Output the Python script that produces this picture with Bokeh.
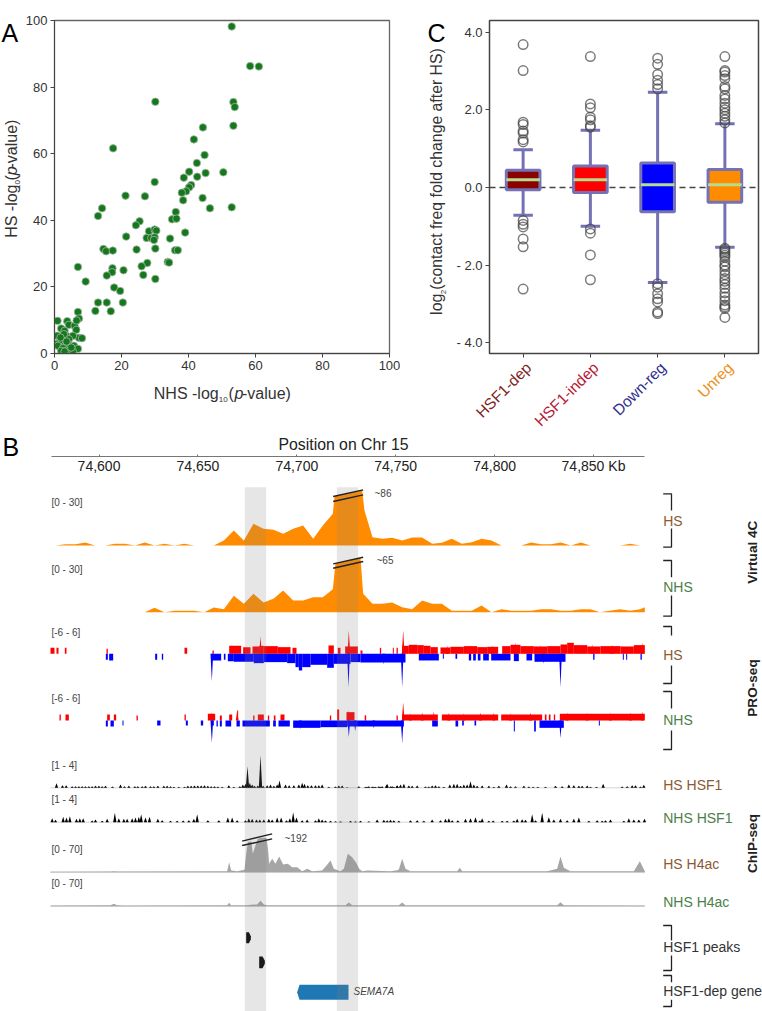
from bokeh.plotting import figure
from bokeh.layouts import column, row
from bokeh.models import Label, Range1d, FixedTicker
from bokeh.embed import file_html
from bokeh.resources import INLINE
import numpy as np

FONT = "Liberation Sans"

# ---------- Panel A ----------
nhs_p = [52.9,58.4,61,30.1,53.4,53.8,53.4,44.3,41.6,17.5,44.8,42.5,40.2,50.4,45.1,42.6,38.6,29.9,40.8,40.2,39.3,38,21.2,27,44.2,38.4,52.9,14.2,46.4,36.2,13,35.1,36.4,25.4,24.3,28.2,29.9,30.4,39,21.4,27.5,28.9,29.9,29.7,34.5,14.6,15.4,17.4,24.5,30.1,36,36.8,33.8,34.2,27.7,26,7,17.3,17.2,20.6,15.6,26.5,30.1,9.3,17.8,19.6,13,15.6,20.4,12.2,16.8,7,7.3,0.9,3.8,4.3,6,2,3,6.5,7.3,8.2,5.5,0.8,3.5,3,1.6,4.3,0.3,1,3,4,2.5,5.8,7,5.5,3.6,2,3,5,3.6,2.8,1.8,6.6]
hs_p = [98.2,86.3,86.2,75.6,75.5,74,68.4,67.9,64.3,61.6,59.6,57.2,54.6,54.4,54.2,53.1,52.8,51.5,50.6,49.9,48.7,48.3,47.4,47.2,46.7,46,43.9,43.6,43.6,42.5,41.3,40.3,40.5,39.7,38.5,36.7,37.2,36.9,36.3,35.1,34.7,34.7,34.9,34.1,34.5,31.4,30.7,30.9,31.2,31.5,31,31,27.5,27.3,27.2,26.2,26,25.6,24.4,25,23.4,23.6,22.4,21.6,19.8,18.8,15.3,15.3,15.3,12.8,12.7,12.5,10.5,9.8,9.7,8.6,8.3,7.5,6.8,7.1,4.7,4.6,5.3,5.3,5.3,4.2,3.8,4.3,2.8,2.3,2.3,2.8,1.6,2.3,1.4,0.6,0.8,0.8,0.6,1.8,3.6,5.8,4.8,9.9]
a_ticks = [0,20,40,60,80,100]

# ---------- Panel C ----------
box_names = ["HSF1-dep","HSF1-indep","Down-reg","Unreg"]
box_fill = ["#8b0000","#ff0000","#0000ff","#ff8c00"]
box_text = ["#7d1f24","#b51a35","#2f2f8c","#e8921e"]
q1 = [-0.06,-0.13,-0.63,-0.38]
q3 = [0.44,0.55,0.63,0.46]
med = [0.2,0.2,0.07,0.07]
wlo = [-0.72,-1.0,-2.45,-1.54]
whi = [0.97,1.47,2.45,1.64]
fliers = [
 [3.68,3.01,1.68,1.62,1.45,1.4,1.23,1.17,-0.85,-0.95,-1.02,-1.33,-1.53,-2.62],
 [3.37,2.15,2.05,1.81,1.74,1.59,1.55,-1.07,-1.18,-1.74,-2.38],
 [3.33,3.17,2.91,2.76,2.65,2.54,-2.48,-2.57,-2.74,-2.87,-2.95,-3.21,-3.25],
 [3.37,3.01,2.97,2.88,2.8,2.6,2.54,2.37,2.28,2.17,2.07,2.0,1.91,1.83,1.74,1.66,-1.57,-1.6,-1.65,-1.7,-1.75,-1.8,-1.9,-2.0,-2.05,-2.15,-2.25,-2.35,-2.42,-2.5,-2.6,-2.72,-2.82,-2.92,-3.03,-3.08,-3.12,-3.35],
]
c_ticks = [-4,-2,0,2,4]
c_tick_text = {-4:"- 4.0",-2:"- 2.0",0:"0.0",2:"2.0",4:"4.0"}

# ---------- Panel B: all genome positions are in bins of BIN_KB from BIN0 ----------
BIN0 = 74550.2
BIN_KB = 0.16852
PX_PER_KB = 1.978
kb_ticks = [74600,74650,74700,74750,74800,74850]
kb_labels = {74600:"74,600",74650:"74,650",74700:"74,700",74750:"74,750",74800:"74,800",74850:"74,850 Kb"}

hs_4c_bin = [150,165,195,225,254,284,314,343,373,403,433,462,492,522,551,581,611,640,670,700,730,759,789,819,848,878,908,938,967,997,1002,1085,1092,1116,1146,1175,1205,1235,1265,1295,1324,1354,1384,1414,1443,1473,1503,1562,1592,1622,1651,1681,1711,1741,1770,1859,1889,1919,1933]
hs_4c_val = [0,0,0.8,0.8,1.8,0,0,1,1,0,1.8,0,1,0,1,0,0,0,3,9,3,13,10,9.4,7,10,12,4,12,19,86,86,21,5,4,4.6,3,4.8,4.8,1,1.6,4,1,2,4,3,0,0,1.8,0.8,0.8,1.8,0,1.8,0,0,1,0,0]
nhs_4c_bin = [150,433,462,492,522,551,581,611,640,670,700,730,759,789,819,848,878,908,938,967,997,1005,1080,1088,1116,1146,1175,1205,1235,1265,1295,1324,1354,1384,1414,1443,1473,1503,1533,1562,1592,1622,1651,1681,1711,1741,1770,1798,1859,1889,1919,1933]
nhs_4c_val = [0,0,2.6,0,0.8,0.8,0.8,0,2.8,1.8,9.8,5,11,5.8,8,13,7,7,9,9,13.8,65,65,11,5,5,5.8,3,1.8,7,5,5,0.8,0.8,0.8,4,0,1.8,0.8,0.8,0.8,1.8,1.8,0.8,0.8,1.8,1.8,0,1.8,0.8,1.8,3]

# PRO-seq blocks: start bin, end bin, height (in 1/16.5 of a unit)
hs_red_a = [150,168,193,318,552,636,686,728,756,776,790,832,876,984,1012,1034,1080,1138,1177,1188,1205,1225,1250,1270,1290,1320,1350,1390,1430,1460,1505,1530,1560,1600,1640,1680,1700,1720,1760,1800,1860,1900]
hs_red_b = [162,174,198,322,560,640,722,750,776,790,832,870,888,1000,1020,1072,1086,1142,1180,1192,1225,1250,1270,1290,1312,1350,1390,1430,1460,1493,1530,1560,1600,1640,1680,1700,1720,1760,1800,1860,1900,1933]
hs_red_h = [18,18,18,15,18,10,24,20,22,24,23,20,18,25,18,22,10,18,18,18,24,27,26,24,20,19,21,23,20,21,23,27,23,22,23,28,33,26,22,23,22,26]
hs_blue_a = [316,326,464,484,634,670,682,700,760,790,860,885,895,905,930,980,1000,1050,1080,1255,1295,1327,1365,1405,1418,1432,1448,1472,1540,1578,1602,1778,1867,1877,1920]
hs_blue_b = [322,338,470,488,662,675,700,760,790,860,885,895,905,930,980,1000,1050,1080,1215,1315,1298,1330,1370,1412,1426,1440,1465,1530,1555,1595,1695,1782,1870,1880,1924]
hs_blue_h = [18,20,18,18,20,18,22,24,28,25,28,40,50,40,33,42,30,25,26,20,15,15,15,20,20,20,20,20,22,20,24,18,18,18,18]
nhs_red_a = [177,195,320,340,408,552,622,658,686,710,758,772,802,820,840,988,1010,1038,1093,1188,1093,1205,1324,1502,1633,1645,1660,1678]
nhs_red_b = [181,205,328,347,412,556,644,664,695,713,762,790,806,825,852,992,1016,1062,1097,1192,1096,1312,1493,1625,1638,1650,1664,1933]
nhs_red_h = [18,18,18,18,15,18,20,15,18,30,15,18,15,15,18,15,33,25,15,15,15,18,18,18,18,18,18,20]
nhs_blue_a = [316,330,366,470,556,601,633,648,658,675,708,726,818,834,878,960,1040,1295,1365,1385,1422,1540,1601,1617,1795]
nhs_blue_b = [322,340,369,480,562,608,640,652,664,692,718,808,826,868,960,1040,1210,1312,1373,1390,1427,1543,1606,1690,1798]
nhs_blue_h = [18,18,15,15,15,15,15,18,18,18,18,18,18,18,22,20,18,18,18,15,15,33,33,22,15]
hs_red_sp_b = [780,1045,1208,1340,1410,1475,1545,1620,1775,1835,1925]; hs_red_sp_h = [52,70,70,24,26,25,33,26,28,27,33]
hs_blue_sp_b = [634,1044,1205,1680,1630,1150]; hs_blue_sp_h = [82,100,100,100,30,32]
nhs_red_sp_b = [634,710,1043,1208,1230,1265,1300,1345,1390,1440,1480,1530,1590,1700,1760,1830,1890,1925]
nhs_red_sp_h = [25,30,30,55,22,24,26,23,22,24,23,22,24,24,23,24,24,26]
nhs_blue_sp_b = [634,1045,1064,1205,1680,900,1120]; nhs_blue_sp_h = [67,50,33,68,53,26,24]

# HSF1 ChIP spikes: bin, height (98 = 3 units)
hs_hsf1_b = [168,186,197,215,225,235,245,255,265,275,285,295,305,315,336,360,372,385,403,412,425,435,450,460,472,490,500,510,520,535,552,562,572,582,592,602,612,622,632,642,652,665,685,700,718,727,735,741,748,755,762,772,780,788,800,810,820,830,837,855,866,880,895,905,912,922,933,945,955,965,985,1005,1015,1025,1040,1075,1095,1105,1115,1125,1135,1145,1160,1170,1180,1190,1100,1120,1140,1158,1175,1190,1200,1210,1225,1235,1250,1275,1285,1295,1305,1315,1330,1348,1360,1370,1380,1390,1400,1410,1420,1430,1445,1465,1480,1495,1518,1530,1545,1570,1585,1598,1612,1635,1665,1685,1705,1720,1735,1745,1760,1770,1788,1808,1865,1880,1895,1905,1920,1930]
hs_hsf1_h = [14,8,8,5,5,5,5,5,5,5,6,6,5,6,4,10,5,6,5,5,5,6,5,5,6,6,6,5,3,3,3,6,6,7,7,7,8,6,5,5,4,3,8,3,5,10,12,65,15,10,6,7,98,6,8,10,6,10,22,10,8,8,10,15,12,8,8,8,8,10,3,4,7,7,2,5,3,5,4,3,5,5,12,5,3,7,3,3,3,9,5,7,10,12,7,6,7,4,4,7,8,5,3,10,12,12,6,10,10,20,10,6,7,6,3,6,10,5,5,6,4,3,3,3,6,5,10,8,6,6,7,3,3,12,4,5,8,8,4,9,8,4]
nhs_hsf1_b = [155,165,188,198,208,228,238,248,275,285,305,320,343,355,370,380,395,405,415,422,435,447,472,485,510,530,548,565,580,590,622,655,682,695,710,735,745,755,768,778,790,805,815,830,842,858,868,878,888,905,920,945,955,965,975,990,1005,1020,1050,1065,1080,1105,1130,1150,1160,1170,1180,1195,1230,1250,1270,1295,1320,1335,1345,1355,1372,1395,1410,1425,1438,1445,1465,1478,1505,1520,1540,1550,1565,1575,1595,1605,1625,1645,1660,1680,1700,1720,1735,1765,1790,1805,1815,1830,1870,1885,1900,1915,1932]
nhs_hsf1_h = [12,7,16,14,18,10,12,12,5,8,4,10,28,12,10,10,12,14,16,24,14,16,10,6,4,4,5,6,10,24,6,6,14,14,6,6,12,10,8,8,8,10,8,14,14,6,12,30,14,6,8,6,12,8,5,4,3,3,4,3,4,3,8,7,6,7,6,4,6,6,4,8,6,10,12,6,6,10,12,15,5,12,4,5,4,4,5,10,9,7,24,6,28,15,8,10,6,10,14,4,6,4,6,8,4,12,8,8,10]

# H4ac ChIP profiles: bin, height (1.41 = 1 unit)
hs_h4_b = [150,330,340,350,680,686,692,710,732,737,742,752,757,765,772,785,798,803,806,815,825,836,848,862,875,890,905,920,935,965,978,990,1000,1020,1030,1042,1055,1068,1076,1085,1100,1170,1190,1195,1205,1215,1230,1320,1370,1378,1385,1640,1670,1680,1690,1710,1900,1918,1933]
hs_h4_h = [1,2,3,2,3,30,5,3,7,55,90,93,55,80,100,103,103,65,25,40,25,47,23,25,15,15,3,10,3,5,20,35,10,3,10,55,45,27,10,3,5,3,6,8,40,10,3,3,3,13,3,3,10,47,13,3,3,33,3]
nhs_h4_b = [150,310,330,340,350,370,680,686,692,740,750,770,780,790,800,1000,1035,1045,1055,1175,1195,1205,1215,1378,1670,1680,1690,1933]
nhs_h4_h = [2,3,3,7,3,2,3,10,3,3,4,5,16,5,3,3,3,11,3,3,3,11,3,3,3,12,3,2]

band_a = [733,1009]; band_b = [797,1073]
peak_a = [737,776]; peak_b = [751,793]
gene_a = 890; gene_b = 1044

# ---------- figures ----------
def base(w, h, **kw):
    p = figure(width=w, height=h, output_backend="svg", toolbar_location=None, **kw)
    p.grid.visible = False
    p.background_fill_color = "white"
    return p

def strip(x0, x1, y0, y1):
    """A figure without axes whose frame is a piece of the page, for texts that lie round a plot."""
    p = base(x1-x0, y1-y0, x_range=Range1d(x0,x1), y_range=Range1d(y1,y0), x_axis_location=None, y_axis_location=None,
             min_border_left=0, min_border_right=0, min_border_top=0, min_border_bottom=0)
    p.outline_line_color = None
    return p

def style_axis(ax, ticks, overrides=None):
    ax.ticker = FixedTicker(ticks=ticks)
    ax.major_label_text_font = FONT
    ax.major_label_text_font_size = "13px"
    ax.major_label_text_color = "#333333"
    ax.axis_line_color = "#444444"
    ax.major_tick_line_color = "#444444"
    ax.major_tick_in = 0
    ax.major_tick_out = 4
    ax.minor_tick_line_color = None
    ax.major_label_standoff = 3
    if overrides:
        ax.major_label_overrides = overrides

def put(p, xpx, ypx, s, size=16, color="#333333", align="left", angle=0, style="normal", fx=None):
    p.add_layout(Label(x=fx(xpx) if fx else xpx, y=ypx, text=s, text_font=FONT, text_font_size=f"{size}px",
                       text_color=color, text_align=align, text_baseline="middle",
                       angle=angle, angle_units="deg", text_font_style=style))

# A
pA = base(378, 378, x_range=Range1d(0,100), y_range=Range1d(0,100),
          min_border_left=31, min_border_right=11, min_border_top=20, min_border_bottom=25)
style_axis(pA.xaxis[0], a_ticks); style_axis(pA.yaxis[0], a_ticks)
pA.outline_line_color = "#666666"; pA.outline_line_width = 1.3
pA.scatter(nhs_p, hs_p, size=7.5, marker="circle", fill_color="#13791c", line_color="#a8b8a8", line_width=0.8)
sA_left = strip(0, 22, 0, 378)
sA_bot = strip(0, 400, 378, 430)
put(sA_left, 1, 14, "A", 25, "#000000")
put(sA_left, 10.5, 246.7, "HS -log", angle=90)
put(sA_left, 17, 191.2, "10", 8, angle=90)
put(sA_left, 10.5, 181.5, "(", angle=90)
put(sA_left, 10.5, 175.8, "p", angle=90, style="italic")
put(sA_left, 10.5, 168, "-value)", angle=90)
put(sA_bot, 153.3, 392.7, "NHS -log")
put(sA_bot, 218.3, 399.3, "10", 8)
put(sA_bot, 228, 392.7, "(")
put(sA_bot, 234, 392.7, "p", style="italic")
put(sA_bot, 241.5, 392.7, "-value)")

# C
pC = base(312, 360, x_range=Range1d(-0.5,3.5), y_range=Range1d(-4.28,4.30),
          min_border_left=39, min_border_right=4, min_border_top=20, min_border_bottom=7)
style_axis(pC.xaxis[0], [0,1,2,3], {0:"",1:"",2:"",3:""}); style_axis(pC.yaxis[0], c_ticks, c_tick_text)
pC.outline_line_color = "#444444"; pC.outline_line_width = 1.5
xs = [0,1,2,3]
stroke = "#7472b4"
pC.line([-0.5,3.5],[0,0], line_color="#444444", line_width=1.5, line_dash="6 4")
pC.segment(xs, wlo, xs, whi, line_color=stroke, line_width=3)
pC.segment([x-.145 for x in xs], wlo, [x+.145 for x in xs], wlo, line_color=stroke, line_width=3)
pC.segment([x-.145 for x in xs], whi, [x+.145 for x in xs], whi, line_color=stroke, line_width=3)
pC.quad(left=[x-.25 for x in xs], right=[x+.25 for x in xs], bottom=q1, top=q3,
        fill_color=box_fill, line_color=stroke, line_width=3)
pC.segment([x-.25 for x in xs], med, [x+.25 for x in xs], med, line_color="#b6dc8e", line_width=3)
for i, f in enumerate(fliers):
    pC.scatter([i]*len(f), f, marker="circle", size=9.5, fill_color=None, line_color="#444444",
               line_alpha=0.7, line_width=1.5)
sC_left = strip(400, 450, 0, 360)
sC_bot = strip(400, 762, 360, 430)
put(sC_left, 427, 14, "C", 25, "#000000")
put(sC_left, 436, 318.3, "log", angle=90)
put(sC_left, 442.5, 296, "2", 8, angle=90)
put(sC_left, 436, 291, "(contact freq fold change after HS)", 15.8, angle=90)
for i, (n, c) in enumerate(zip(box_names, box_text)):
    put(sC_bot, 528+67.2*i, 364.5, n, 15.5, c, align="right", angle=45)

# B header with the position axis
KB0, KB1 = BIN0, BIN0 + 762/PX_PER_KB
kx = lambda v: KB0 + v/PX_PER_KB
pH = base(762, 50, x_range=Range1d(KB0,KB1), y_range=Range1d(456,430), y_axis_location=None,
          min_border_left=0, min_border_right=0, min_border_top=0, min_border_bottom=24)
pH.outline_line_color = None
ax = pH.xaxis[0]
ax.ticker = FixedTicker(ticks=kb_ticks); ax.major_label_overrides = kb_labels
ax.bounds = (74576, 74876)
ax.major_label_text_font = FONT; ax.major_label_text_font_size = "14px"; ax.major_label_text_color = "#222222"
ax.axis_line_color = "#777777"; ax.major_tick_line_color = "#777777"
ax.major_tick_in = 2; ax.major_tick_out = 0; ax.minor_tick_line_color = None; ax.major_label_standoff = 1
put(pH, 2, 446.5, "B", 25, "#000000", fx=kx)
put(pH, 343, 444.3, "Position on Chr 15", 15.8, "#222222", align="center", fx=kx)

# B tracks: every track has its own signal range over the same frame
TOP, BOT = 480.0, 1011.0
def trk(base_px, px_per_unit, origin=0.0):
    return Range1d(origin-(BOT-base_px)/px_per_unit, origin+(base_px-TOP)/px_per_unit)
ranges = {"hs4c":trk(545,5/3), "nhs4c":trk(611.7,5/3),
          "hspro":trk(653.3,5.5), "nhspro":trk(720,5.5),
          "hshsf":trk(787.3,98/9,1.0), "nhshsf":trk(821.7,98/9,1.0),
          "hsh4":trk(871.7,0.47), "nhsh4":trk(905.7,0.47)}
pB = base(762, 531, x_range=Range1d(KB0,KB1), y_range=Range1d(BOT,TOP), x_axis_location=None, y_axis_location=None,
          min_border_left=0, min_border_right=0, min_border_top=0, min_border_bottom=0)
pB.extra_y_ranges = ranges
pB.outline_line_color = None
kb = lambda b: BIN0 + np.asarray(b, dtype=float)*BIN_KB

def area(bins, vals, rng, color, cap=None):
    v = np.asarray(vals, dtype=float)
    if cap is not None:
        v = np.minimum(v, np.interp(bins, cap[0], cap[1]))
    pB.varea(kb(bins), np.zeros(len(v)), v, fill_color=color, y_range_name=rng)

def breaks(b0, b1, pairs, rng):
    for lo, hi in pairs:
        pB.line(kb([b0,b1]), [lo,hi], line_color="#222222", line_width=1.4, y_range_name=rng)

area(hs_4c_bin, hs_4c_val, "hs4c", "#ff8c00", cap=([998,1088],[29.4,33.4]))
area(nhs_4c_bin, nhs_4c_val, "nhs4c", "#ff8c00", cap=([998,1088],[29,33]))

def blocks(a, b, h, rng, color, sign):
    hh = np.asarray(h, dtype=float)/16.5*sign
    pB.quad(left=kb(a), right=kb(b), bottom=0*hh, top=hh, fill_color=color, line_color=None, y_range_name=rng)

def spikes(b, h, rng, color, scale, origin=0.0, half=4.0):
    b = np.asarray(b, dtype=float); h = np.asarray(h, dtype=float)*scale
    pxs = [kb([x-half, x, x+half]) for x in b]
    pys = [[origin, origin+v, origin] for v in h]
    pB.patches(pxs, pys, fill_color=color, line_color=None, y_range_name=rng)

blocks(hs_red_a, hs_red_b, hs_red_h, "hspro", "#ff0000", 1)
blocks(hs_blue_a, hs_blue_b, hs_blue_h, "hspro", "#0000ff", -1)
blocks(nhs_red_a, nhs_red_b, nhs_red_h, "nhspro", "#ff0000", 1)
blocks(nhs_blue_a, nhs_blue_b, nhs_blue_h, "nhspro", "#0000ff", -1)
spikes(hs_red_sp_b, hs_red_sp_h, "hspro", "#ff0000", 1/16.5)
spikes(hs_blue_sp_b, hs_blue_sp_h, "hspro", "#0000ff", -1/16.5)
spikes(nhs_red_sp_b, nhs_red_sp_h, "nhspro", "#ff0000", 1/16.5)
spikes(nhs_blue_sp_b, nhs_blue_sp_h, "nhspro", "#0000ff", -1/16.5)

for rng, b_, h_ in (("hshsf",hs_hsf1_b,hs_hsf1_h),("nhshsf",nhs_hsf1_b,nhs_hsf1_h)):
    pB.line(kb([150,1933]), [1,1], line_color="#cccccc", line_width=0.8, y_range_name=rng)
    spikes(b_, h_, rng, "#000000", 3/98, 1.0, half=5.0)

for rng, b_, h_ in (("hsh4",hs_h4_b,hs_h4_h),("nhsh4",nhs_h4_b,nhs_h4_h)):
    pB.line(kb([150,1933]), [0,0], line_color="#bbbbbb", line_width=0.8, y_range_name=rng)
    v = np.minimum(np.asarray(h_, dtype=float)/1.41, np.interp(b_, [725,815], [66,81.6]))
    pB.varea(kb(b_), np.zeros(len(v)), v, fill_color="#a6a6a6", y_range_name=rng)

# peaks and gene
for a_, b_, yt, yb in zip(peak_a, peak_b, [931.7,956], [942.7,967.7]):
    m = (yt+yb)/2; s = a_+0.6*(b_-a_)
    pB.patch(kb([a_,s,b_,b_,s,a_]), [yt,yt,m-1.5,m+1.5,yb,yb], fill_color="#000000", line_color=None)
gt, gb = 984.3, 999.3
pB.patch(kb([gene_a, gene_a+7, gene_b, gene_b, gene_a+7]), [(gt+gb)/2, gt, gt, gb, gb], fill_color="#1f77b4", line_color=None)

# shaded bands
pB.quad(left=kb(band_a), right=kb(band_b), top=486.7, bottom=BOT, fill_color="#808080", fill_alpha=0.2, line_color=None)

# axis breaks
breaks(998,1088,[(29.4,33.4),(26.4,30.4)],"hs4c")
breaks(998,1088,[(29,33),(26.4,30.4)],"nhs4c")
breaks(725,815,[(66,81.6),(56.7,70.9)],"hsh4")

# brackets
brackets = [(493.3,510,528,546.7),(560,576.7,595,615.7),(626,635,665,683),(691,708,730,749),(925,940,955,970),(975,981.7,999.3,1006)]
for t0, t1, b0, b1 in brackets:
    pB.line([kx(662.7),kx(671),kx(671)], [t0,t0,t1], line_color="#222222", line_width=1.3)
    pB.line([kx(671),kx(671),kx(662.7)], [b0,b1,b1], line_color="#222222", line_width=1.3)

HS = "#8b5a33"; NHS = "#4b8048"
for x_, y_, s in [(51,502.3,"[0 - 30]"),(51,569,"[0 - 30]"),(51,631.7,"[-6 - 6]"),(51,697.7,"[-6 - 6]"),
                  (51,765,"[1 - 4]"),(51,799.3,"[1 - 4]"),(51,848.7,"[0 - 70]"),(51,883,"[0 - 70]"),
                  (374,493.3,"~86"),(376,560.3,"~65"),(284,837.7,"~192")]:
    put(pB, x_, y_, s, 10, "#444444", fx=kx)
put(pB, 353, 991, "SEMA7A", 10, "#444444", style="italic", fx=kx)
for y_, s, c in [(520,"HS",HS),(586,"NHS",NHS),(654,"HS",HS),(719,"NHS",NHS),(784.3,"HS HSF1",HS),(817,"NHS HSF1",NHS),
                 (863,"HS H4ac",HS),(901.7,"NHS H4ac",NHS),(946.7,"HSF1 peaks","#333333"),(990.7,"HSF1-dep gene","#333333")]:
    put(pB, 662.7, y_, s, 14, c, fx=kx)
for y_, s in [(551.7,"Virtual 4C"),(687.5,"PRO-seq"),(843,"ChIP-seq")]:
    put(pB, 751.7, y_, s, 13.6, "#222222", align="center", angle=90, style="bold", fx=kx)

layout = column(row(column(row(sA_left, pA), sA_bot), column(row(sC_left, pC), sC_bot)), pH, pB)
open("out.html", "w").write(file_html(layout, INLINE))
